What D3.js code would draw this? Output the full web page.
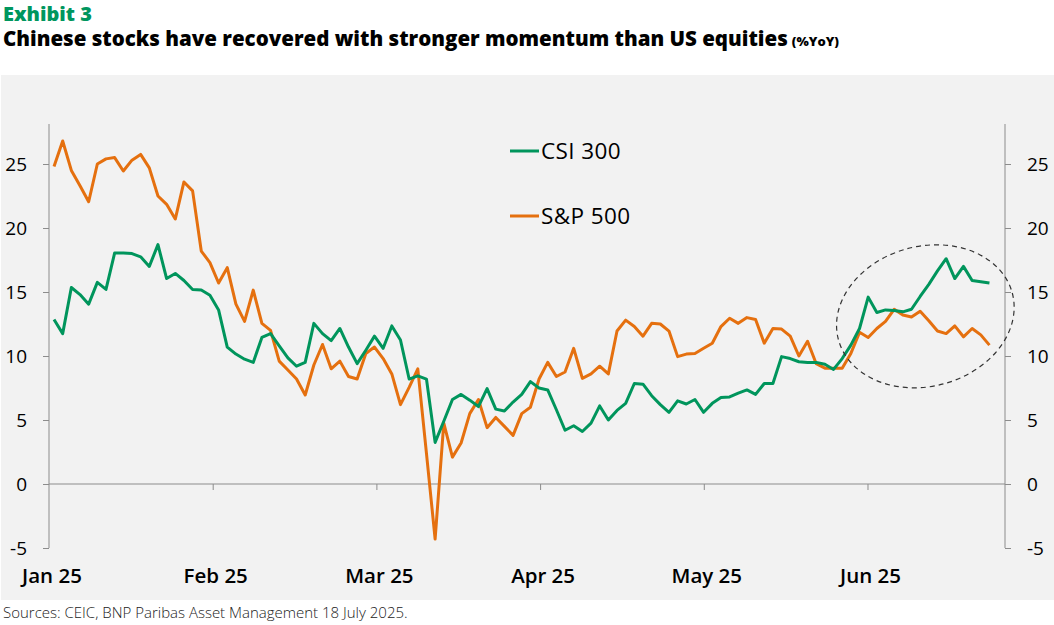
<!DOCTYPE html>
<html>
<head>
<meta charset="utf-8">
<script src="https://cdn.jsdelivr.net/npm/d3@7"></script>
<style>
  html, body { margin: 0; padding: 0; background: #fff; }
  svg { display: block; }
</style>
</head>
<body>
<svg id="chart" width="1054" height="625"></svg>
<script>
// month labels on the x axis
const months = ['Jan 25', 'Feb 25', 'Mar 25', 'Apr 25', 'May 25', 'Jun 25'];
const yTicks = [-5, 0, 5, 10, 15, 20, 25];

// CSI 300, %YoY
const csi300 = [
  12.85, 11.75, 15.35, 14.8, 14.05, 15.75, 15.2, 18.05, 18.05, 18.0,
  17.75, 17.0, 18.7, 16.05, 16.45, 15.9, 15.2, 15.15, 14.75, 13.6,
  10.7, 10.15, 9.75, 9.5, 11.45, 11.75, 10.8, 9.85, 9.2, 9.5,
  12.55, 11.75, 11.2, 12.15, 10.7, 9.4, 10.45, 11.55, 10.6, 12.35,
  11.25, 8.2, 8.45, 8.2, 3.25, 4.9, 6.6, 7.0, 6.55, 6.05,
  7.45, 5.85, 5.7, 6.4, 7.0, 8.0, 7.5, 7.35, 5.8, 4.2,
  4.55, 4.1, 4.75, 6.1, 5.0, 5.75, 6.3, 7.85, 7.8, 6.9,
  6.2, 5.6, 6.5, 6.25, 6.6, 5.6, 6.3, 6.75, 6.8, 7.1,
  7.35, 7.0, 7.85, 7.85, 9.95, 9.8, 9.55, 9.5, 9.5, 9.35,
  8.95, 9.8, 10.85, 12.15, 14.6, 13.4, 13.6, 13.55, 13.45, 13.65,
  14.65, 15.6, 16.65, 17.6, 16.05, 17.0, 15.9, 15.8, 15.7
];

// S&P 500, %YoY
const sp500 = [
  24.8, 26.8, 24.5, 23.3, 22.05, 25.0, 25.4, 25.5, 24.45, 25.3,
  25.75, 24.7, 22.5, 21.85, 20.7, 23.6, 22.9, 18.2, 17.3, 15.7,
  16.9, 14.05, 12.7, 15.15, 12.55, 12.0, 9.6, 8.9, 8.2, 6.95,
  9.3, 10.9, 9.0, 9.6, 8.4, 8.2, 10.2, 10.7, 9.8, 8.6,
  6.2, 7.55, 9.0, 2.4, -4.3, 4.75, 2.1, 3.2, 5.5, 6.6,
  4.4, 5.2, 4.5, 3.8, 5.5, 6.0, 8.2, 9.5, 8.4, 8.75,
  10.6, 8.25, 8.6, 9.2, 8.6, 11.95, 12.8, 12.3, 11.55, 12.55,
  12.5, 11.95, 9.95, 10.15, 10.2, 10.6, 11.0, 12.3, 12.95, 12.55,
  13.0, 12.85, 11.0, 12.15, 12.1, 11.55, 10.0, 11.15, 9.4, 9.05,
  9.05, 9.05, 10.2, 11.85, 11.45, 12.15, 12.7, 13.65, 13.2, 13.05,
  13.5, 12.75, 11.95, 11.75, 12.35, 11.5, 12.15, 11.65, 10.85
];

const series = [
  {name: 'CSI 300', values: csi300, color: '#00955c'},
  {name: 'S&P 500', values: sp500, color: '#e5700f'}
];

const svg = d3.select('#chart');
const font = '"Open Sans", "Liberation Sans", sans-serif';

const plotLeft = 49, plotRight = 1005, plotTop = 124, plotBottom = 548;
const perMonth = 18.9;  // observations per month on the axis
const startOff = 0.58;  // first observation sits a little after Jan 1

const x = d3.scaleLinear().domain([0, 5.84]).range([plotLeft, plotRight]);
const y = d3.scaleLinear().domain([-5, 28.125]).range([plotBottom, plotTop]);
const xi = i => x((i + startOff) / perMonth);

// background panel
svg.append('rect')
    .attr('x', 1).attr('y', 75)
    .attr('width', 1053).attr('height', 525)
    .attr('fill', '#f2f2f2');

// titles
svg.append('text')
    .attr('x', 3).attr('y', 21)
    .attr('font-family', font)
    .attr('font-weight', 800)
    .attr('font-size', 20)
    .attr('fill', '#00965e')
    .text('Exhibit 3');

let title = svg.append('text')
    .attr('x', 3).attr('y', 46)
    .attr('font-family', font)
    .attr('font-weight', 800)
    .attr('font-size', 20.5)
    .attr('fill', '#000');
title.append('tspan').text('Chinese stocks have recovered with stronger momentum than US equities');
title.append('tspan').attr('font-size', 13).attr('dx', 4).text('(%YoY)');

svg.append('text')
    .attr('x', 3).attr('y', 618)
    .attr('font-family', font)
    .attr('font-weight', 300)
    .attr('font-size', 15)
    .attr('fill', '#222')
    .text('Sources: CEIC, BNP Paribas Asset Management 18 July 2025.');

// axes
const axisColor = '#8c8c8c';

let yLeft = svg.append('g')
    .attr('transform', 'translate(' + plotLeft + ',0)')
    .call(d3.axisLeft(y).tickValues(yTicks).tickSize(6).tickPadding(16).tickFormat(function (d) { return String(d); }));
let yRight = svg.append('g')
    .attr('transform', 'translate(' + plotRight + ',0)')
    .call(d3.axisRight(y).tickValues(yTicks).tickSize(6).tickPadding(16).tickFormat(function (d) { return String(d); }));

[yLeft, yRight].forEach(function (g) {
  g.select('.domain').attr('d', 'M0,' + plotTop + 'V' + plotBottom).attr('stroke', axisColor);
  g.selectAll('.tick line').attr('stroke', axisColor);
  g.selectAll('.tick text')
      .attr('font-family', font)
      .attr('font-size', 19)
      .attr('fill', '#000');
});

let xAxis = svg.append('g')
    .attr('transform', 'translate(0,' + y(0) + ')')
    .call(d3.axisBottom(x).tickValues(d3.range(1, months.length)).tickSize(6).tickFormat(''));
xAxis.select('.domain').attr('d', 'M' + plotLeft + ',0H' + plotRight).attr('stroke', axisColor);
xAxis.selectAll('.tick line').attr('stroke', axisColor);

svg.append('g').selectAll('text')
    .data(months)
    .enter().append('text')
    .attr('x', function (d, i) { return x(i) + 3; })
    .attr('y', 583)
    .attr('text-anchor', 'middle')
    .attr('font-family', font)
    .attr('font-weight', 600)
    .attr('font-size', 20.5)
    .attr('fill', '#000')
    .text(function (d) { return d; });

// lines
const line = d3.line()
    .x(function (d, i) { return xi(i); })
    .y(function (d) { return y(d); });

svg.append('g').selectAll('path')
    .data(series.slice().reverse())
    .enter().append('path')
    .attr('d', function (d) { return line(d.values); })
    .attr('fill', 'none')
    .attr('stroke', function (d) { return d.color; })
    .attr('stroke-width', 3)
    .attr('stroke-linejoin', 'round');

// legend
let legend = svg.append('g').selectAll('g')
    .data(series)
    .enter().append('g')
    .attr('transform', function (d, i) { return 'translate(510,' + (151 + i * 65) + ')'; });
legend.append('line')
    .attr('x1', 0).attr('x2', 29)
    .attr('stroke', function (d) { return d.color; })
    .attr('stroke-width', 3);
legend.append('text')
    .attr('x', 31).attr('y', 7.5)
    .attr('font-family', font)
    .attr('font-size', 22.5)
    .attr('letter-spacing', 0.4)
    .attr('fill', '#000')
    .text(function (d) { return d.name; });

// dashed ellipse round the latest weeks
const cx = xi(100.6), cy = y(13.1);
svg.append('ellipse')
    .attr('cx', cx).attr('cy', cy)
    .attr('rx', 90).attr('ry', 70)
    .attr('transform', 'rotate(-15,' + cx + ',' + cy + ')')
    .attr('fill', 'none')
    .attr('stroke', '#333')
    .attr('stroke-width', 1.2)
    .attr('stroke-dasharray', '5,4');
</script>
</body>
</html>
